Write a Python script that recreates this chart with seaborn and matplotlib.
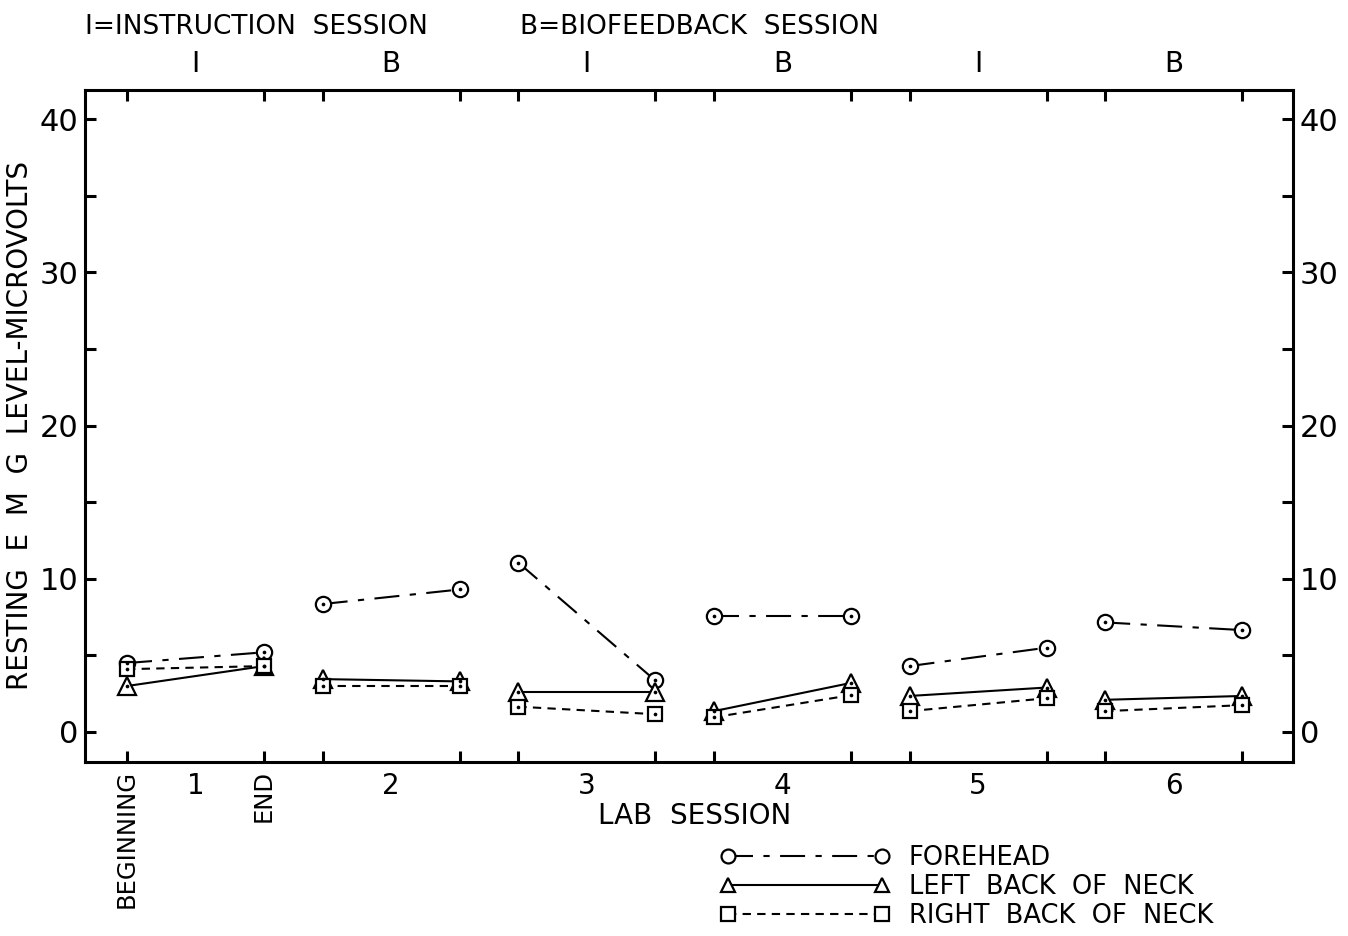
import numpy as np
import pandas as pd
import matplotlib
matplotlib.use("Agg")
from matplotlib import pyplot as plt
from matplotlib.lines import Line2D
import seaborn as sns

# lab sessions, each measured at the beginning and end
sessions = [1, 2, 3, 4, 5, 6]
session_types = ["I", "B", "I", "B", "I", "B"]
end_offset = 0.7

sites = ["FOREHEAD", "LEFT  BACK  OF  NECK", "RIGHT  BACK  OF  NECK"]
forehead_start = [4.5, 8.35, 11.05, 7.6, 4.3, 7.15]
forehead_end = [5.2, 9.3, 3.36, 7.6, 5.5, 6.65]
left_start = [3.0, 3.45, 2.64, 1.36, 2.35, 2.1]
left_end = [4.3, 3.3, 2.64, 3.2, 2.9, 2.35]
right_start = [4.1, 2.97, 1.65, 0.96, 1.36, 1.36]
right_end = [4.3, 2.97, 1.16, 2.4, 2.2, 1.75]

rows = []
for site, st, en in zip(sites, [forehead_start, left_start, right_start],
                        [forehead_end, left_end, right_end]):
    for s, a, b in zip(sessions, st, en):
        rows.append({"site": site, "session": s, "x": s, "emg": a})
        rows.append({"site": site, "session": s, "x": s + end_offset, "emg": b})
df = pd.DataFrame(rows)

sns.set_theme(style="white")
plt.rcParams["font.family"] = ["DejaVu Sans"]
plt.rcParams["text.color"] = "black"
plt.rcParams["axes.labelcolor"] = "black"
plt.rcParams["axes.linewidth"] = 2.2

fig = plt.figure(figsize=(13.48, 9.36), dpi=100)
ax = fig.add_axes([85 / 1348, 1 - 762 / 936, (1293 - 85) / 1348, (762 - 90) / 936])

markers = {sites[0]: "o", sites[1]: "^", sites[2]: "s"}
dashes = {sites[0]: (12, 5, 3, 5), sites[1]: "", sites[2]: (4, 3)}
sns.lineplot(data=df, x="x", y="emg", hue="site", style="site", units="session",
             estimator=None, palette=["black"] * 3, markers=markers, dashes=dashes,
             markersize=11, markerfacecolor="white", markeredgecolor="black",
             markeredgewidth=1.6, linewidth=1.5, legend=False, ax=ax)
for line in ax.lines:
    if line.get_marker() == "^":
        line.set_markersize(13)
    elif line.get_marker() == "s":
        line.set_markersize(10.5)
sns.scatterplot(data=df, x="x", y="emg", color="black", s=7, linewidth=0,
                legend=False, ax=ax, zorder=5)

for sp in ax.spines.values():
    sp.set_color("black")
    sp.set_linewidth(2.2)

ax.set_xlim(0.785, 6.96)
ax.set_ylim(-1.96, 41.9)
ax.set_xlabel("")
ax.set_ylabel("RESTING  E  M  G  LEVEL-MICROVOLTS", fontsize=20, labelpad=4)

ax.set_yticks([0, 10, 20, 30, 40])
ax.set_yticks([5, 15, 25, 35], minor=True)
ax.tick_params(axis="y", which="both", direction="in", length=8, width=2.2,
               left=True, right=True, labelleft=True, labelright=True,
               labelsize=22, pad=5, colors="black")

bounds = []
for s in sessions:
    bounds += [s, s + end_offset]
ax.set_xticks(bounds)
ax.set_xticklabels(["BEGINNING", "END"] + [""] * (len(bounds) - 2),
                   rotation=90, fontsize=17.5)
mids = [s + end_offset / 2 for s in sessions]
ax.set_xticks(mids, minor=True)
ax.set_xticklabels([str(s) for s in sessions], minor=True, fontsize=20)
ax.tick_params(axis="x", which="major", direction="in", length=8, width=2.2,
               top=True, bottom=True, pad=6, colors="black")
ax.tick_params(axis="x", which="minor", length=0, pad=7, colors="black")

for m, t in zip(mids, session_types):
    ax.text(m, 41.9 + 1.7, t, ha="center", va="center", fontsize=20)

fig.text(85 / 1348, 1 - 27 / 936, "I=INSTRUCTION  SESSION", ha="left", va="center", fontsize=19)
fig.text(520 / 1348, 1 - 27 / 936, "B=BIOFEEDBACK  SESSION", ha="left", va="center", fontsize=19)
fig.text(695 / 1348, 1 - 816 / 936, "LAB  SESSION", ha="center", va="center", fontsize=20)

handles = [Line2D([], [], color="black", lw=1.5, marker=markers[s], markersize=10,
                  markerfacecolor="white", markeredgecolor="black", markeredgewidth=1.6,
                  dashes=dashes[s] if dashes[s] else (None, None),
                  linestyle="-") for s in sites]
leg = fig.legend(handles, sites, loc="upper left", bbox_to_anchor=(720 / 1348, 1 - 845 / 936),
                 numpoints=2, handlelength=6.6, handletextpad=0.75, frameon=False,
                 fontsize=18.5, labelspacing=0.12, borderpad=0, borderaxespad=0)

fig.savefig("out.png", dpi=100, facecolor="white")
